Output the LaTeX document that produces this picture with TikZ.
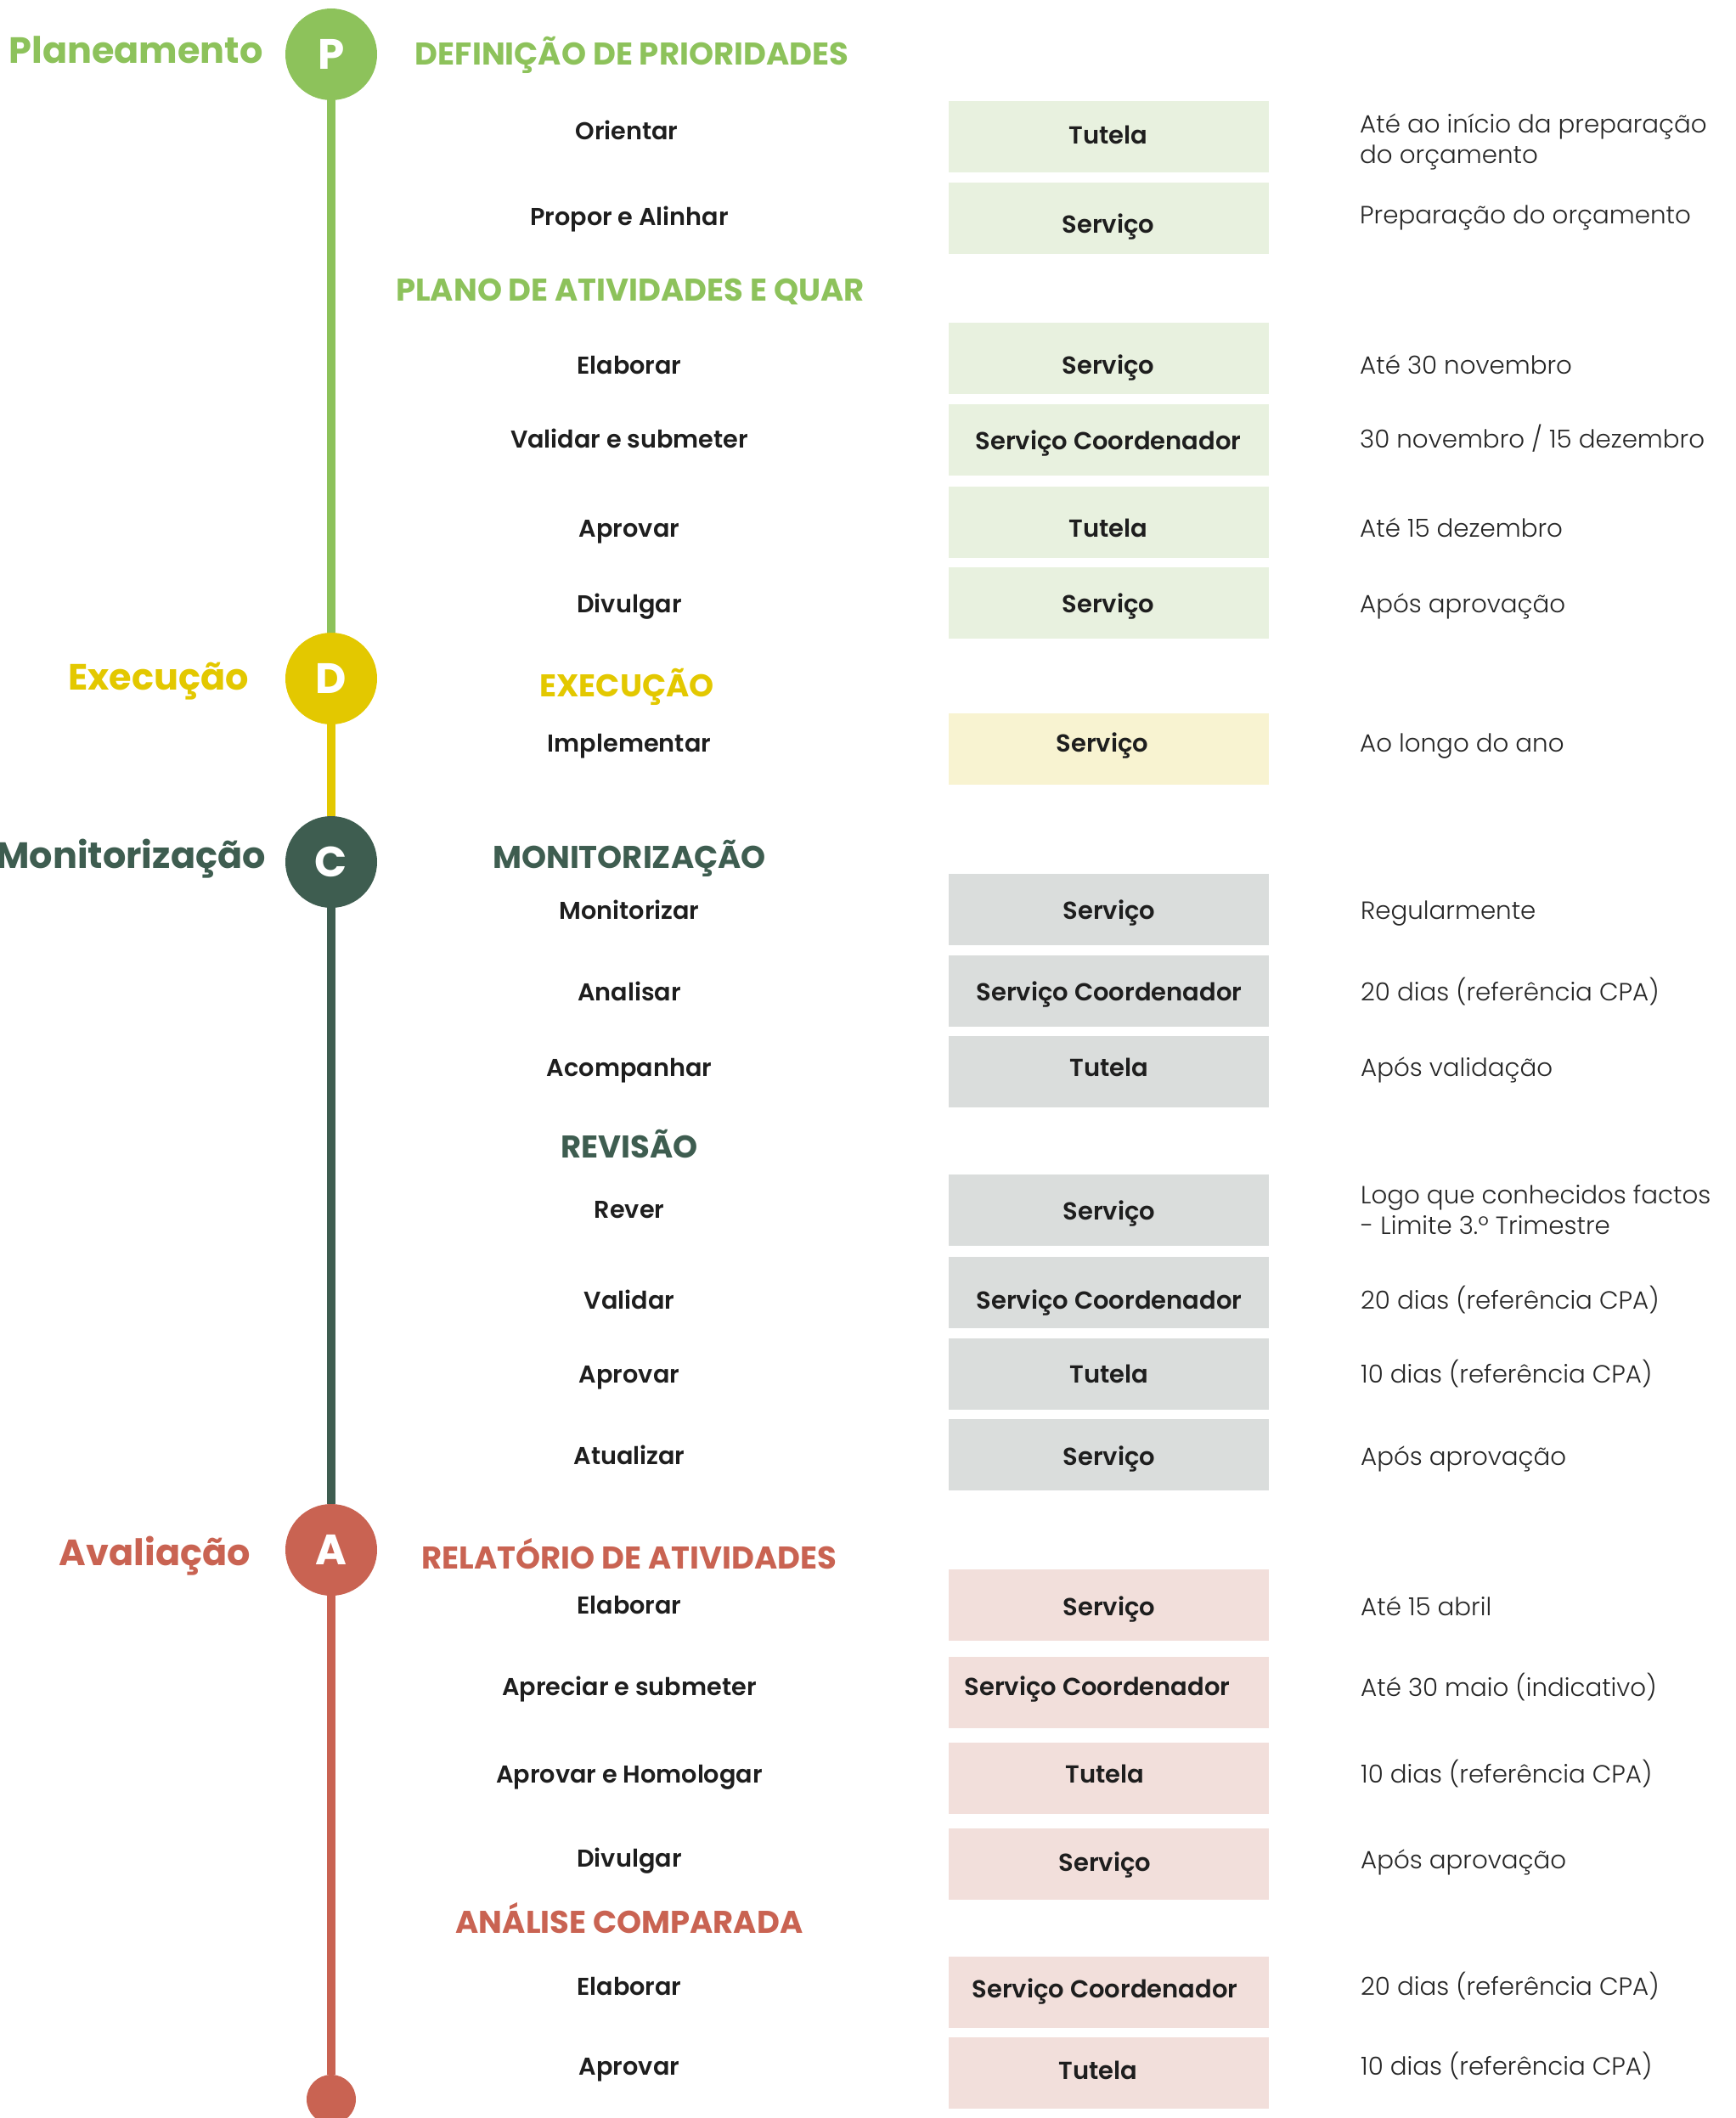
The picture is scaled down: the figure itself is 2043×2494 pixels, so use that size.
\documentclass[tikz,border=0pt]{standalone}
\usepackage{fontspec}
\setmainfont{Poppins}
\newfontfamily\pbold{Poppins Bold}
\newfontfamily\psemi{Poppins SemiBold}
\newfontfamily\pmed{Poppins Medium}
\newfontfamily\plight{Poppins Light}
\definecolor{cP}{HTML}{8DC25B}
\definecolor{cD}{HTML}{E3C800}
\definecolor{cC}{HTML}{3E5D50}
\definecolor{cA}{HTML}{C96352}
\definecolor{fP}{HTML}{E8F1DF}
\definecolor{fD}{HTML}{F8F3D1}
\definecolor{fC}{HTML}{DADDDC}
\definecolor{fA}{HTML}{F2DFDB}
\definecolor{txt}{HTML}{1E1E1E}
\definecolor{txtl}{HTML}{262626}
\tikzset{
  phase/.style={anchor=base east, inner sep=0, font=\pbold\fontsize{43}{50}\selectfont},
  circ/.style={circle, minimum size=108pt, inner sep=0, font=\pbold\fontsize{50}{50}\selectfont, text=white},
  head/.style={inner sep=0, text height=25.8pt, text depth=0pt, font=\pbold\fontsize{37}{44}\selectfont},
  act/.style={inner sep=0, text height=20.2pt, text depth=0pt, text=txt, font=\psemi\fontsize{28.7}{34}\selectfont},
  rolebox/.style={inner sep=0, minimum width=377pt, minimum height=84pt},
  roletext/.style={inner sep=0, text height=20.2pt, text depth=0pt, text=txt, font=\psemi\fontsize{29}{34}\selectfont},
  due/.style={anchor=west, inner sep=0, align=left, text=txtl, font=\plight\fontsize{29.3}{36}\selectfont},
  due1/.style={due, text height=20.4pt, text depth=0pt},
  tline/.style={line width=10pt}
}
\newcommand\rolerow[6]{% name, fill, ytop, ybot, text, textx/texty
  \node[rolebox, fill=#2, anchor=north] (#1) at (1305.5,#3) {};
  \node[roletext] (#1t) at (#6) {#5};
}
\begin{document}
\begin{tikzpicture}[x=1pt,y=-1pt]
\useasboundingbox (0,0) rectangle (2043,2494);
% timeline circles
\node[circ, fill=cP] (P) at (390,64) {P};
\node[circ, fill=cD] (D) at (390,799) {D};
\node[circ, fill=cC] (C) at (390,1015) {C};
\node[circ, fill=cA] (A) at (390,1825) {A};
\node[circle, fill=cA, minimum size=58pt, inner sep=0] (E) at (390,2472) {};
\draw[tline, cP] (P) -- (D);
\draw[tline, cD] (D) -- (C);
\draw[tline, cC] (C) -- (A);
\draw[tline, cA] (A) -- (E);
% phase labels
\node[phase, text=cP] (lP) at (310,75) {Planeamento};
\node[phase, text=cD] (lD) at (293,812) {Execução};
\node[phase, text=cC] (lC) at (313,1022) {Monitorização};
\node[phase, text=cA] (lA) at (295,1843) {Avaliação};
% headings
\node[head, text=cP] (h1) at (744,64) {DEFINIÇÃO DE PRIORIDADES};
\node[head, text=cP] (h2) at (742,342) {PLANO DE ATIVIDADES E QUAR};
\node[head, text=cD] (h3) at (738,808) {EXECUÇÃO};
\node[head, text=cC] (h4) at (741,1010) {MONITORIZAÇÃO};
\node[head, text=cC] (h5) at (741,1351) {REVISÃO};
\node[head, text=cA] (h6) at (741,1835) {RELATÓRIO DE ATIVIDADES};
\node[head, text=cA] (h7) at (741,2264) {ANÁLISE COMPARADA};
% activities
\node[act] (a1) at (738,154) {Orientar};
\node[act] (a2) at (741,255) {Propor e Alinhar};
\node[act] (a3) at (741,430) {Elaborar};
\node[act] (a4) at (741,517) {Validar e submeter};
\node[act] (a5) at (741,622) {Aprovar};
\node[act] (a6) at (741,711) {Divulgar};
\node[act] (a7) at (741,875) {Implementar};
\node[act] (a8) at (741,1072) {Monitorizar};
\node[act] (a9) at (741,1168) {Analisar};
\node[act] (a10) at (741,1257) {Acompanhar};
\node[act] (a11) at (741,1424) {Rever};
\node[act] (a12) at (741,1531) {Validar};
\node[act] (a13) at (741,1618) {Aprovar};
\node[act] (a14) at (741,1714) {Atualizar};
\node[act] (a15) at (741,1890) {Elaborar};
\node[act] (a16) at (741,1986) {Apreciar e submeter};
\node[act] (a17) at (741,2089) {Aprovar e Homologar};
\node[act] (a18) at (741,2188) {Divulgar};
\node[act] (a19) at (741,2339) {Elaborar};
\node[act] (a20) at (741,2433) {Aprovar};
% role boxes
\rolerow{r1}{fP}{119}{203}{Tutela}{1305,159}
\rolerow{r2}{fP}{215}{299}{Serviço}{1305,264}
\rolerow{r3}{fP}{380}{463}{Serviço}{1305,430}
\rolerow{r4}{fP}{476}{558}{Serviço Coordenador}{1305,519}
\rolerow{r5}{fP}{573}{655}{Tutela}{1305,622}
\rolerow{r6}{fP}{668}{751}{Serviço}{1305,711}
\rolerow{r7}{fD}{840}{923}{Serviço}{1298,875}
\rolerow{r8}{fC}{1029}{1112}{Serviço}{1306,1072}
\rolerow{r9}{fC}{1125}{1208}{Serviço Coordenador}{1306,1168}
\rolerow{r10}{fC}{1220}{1305}{Tutela}{1306,1257}
\rolerow{r11}{fC}{1383}{1467}{Serviço}{1306,1426}
\rolerow{r12}{fC}{1480}{1563}{Serviço Coordenador}{1306,1531}
\rolerow{r13}{fC}{1576}{1659}{Tutela}{1306,1618}
\rolerow{r14}{fC}{1671}{1755}{Serviço}{1306,1715}
\rolerow{r15}{fA}{1848}{1930}{Serviço}{1306,1892}
\rolerow{r16}{fA}{1951}{2033}{Serviço Coordenador}{1292,1986}
\rolerow{r17}{fA}{2052}{2135}{Tutela}{1301,2089}
\rolerow{r18}{fA}{2153}{2236}{Serviço}{1301,2193}
\rolerow{r19}{fA}{2304}{2387}{Serviço Coordenador}{1301,2342}
\rolerow{r20}{fA}{2399}{2482}{Tutela}{1293,2438}
% due dates
\node[due] (d1) at (1601,167) {Até ao início da preparação\\do orçamento};
\node[due1] (d2) at (1601,253) {Preparação do orçamento};
\node[due1] (d3) at (1601,430) {Até 30 novembro};
\node[due1] (d4) at (1601,517) {30 novembro / 15 dezembro};
\node[due1] (d5) at (1601,622) {Até 15 dezembro};
\node[due1] (d6) at (1601,711) {Após aprovação};
\node[due1] (d7) at (1601,875) {Ao longo do ano};
\node[due1] (d8) at (1602,1072) {Regularmente};
\node[due1] (d9) at (1602,1168) {20 dias (referência CPA)};
\node[due1] (d10) at (1602,1257) {Após validação};
\node[due] (d11) at (1602,1425) {Logo que conhecidos factos\\- Limite 3.º Trimestre};
\node[due1] (d12) at (1602,1531) {20 dias (referência CPA)};
\node[due1] (d13) at (1602,1618) {10 dias (referência CPA)};
\node[due1] (d14) at (1602,1715) {Após aprovação};
\node[due1] (d15) at (1602,1892) {Até 15 abril};
\node[due1] (d16) at (1602,1987) {Até 30 maio (indicativo)};
\node[due1] (d17) at (1602,2089) {10 dias (referência CPA)};
\node[due1] (d18) at (1602,2190) {Após aprovação};
\node[due1] (d19) at (1602,2339) {20 dias (referência CPA)};
\node[due1] (d20) at (1602,2433) {10 dias (referência CPA)};
\end{tikzpicture}
\end{document}
